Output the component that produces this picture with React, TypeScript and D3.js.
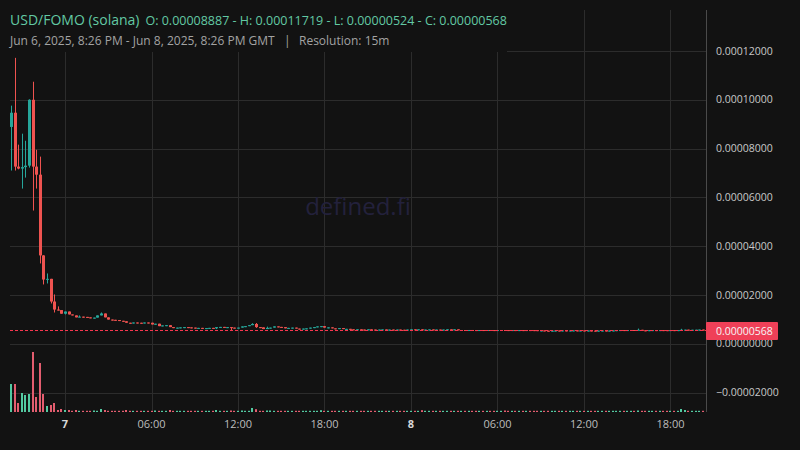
import React from "react";
import * as d3 from "d3";

const W = 800;
const H = 450;

// 15-minute candles, Jun 6 2025 20:15 GMT onward (prices in units of 1e-6 USD)
const startTime = Date.UTC(2025, 5, 6, 20, 15);
const stepMs = 15 * 60 * 1000;
const firstOpen = 88.87;

const closes: number[] = [
  94.7, 72.6, 71.8, 72.4, 73.0, 100.0, 72.6, 69.3, 36.2, 26.3,
  26.6, 17.3, 14.0, 13.8, 12.3, 13.2, 12.0, 11.6, 10.8, 11.1,
  11.0, 10.8, 10.4, 10.7, 11.6, 12.4, 10.8, 9.9, 9.8, 9.7,
  9.4, 9.2, 8.6, 8.5, 8.7, 8.6, 8.5, 8.7, 8.6, 7.9,
  8.2, 7.2, 7.5, 7.6, 6.8, 6.4, 6.6, 6.7, 6.8, 6.7,
  6.6, 6.3, 6.5, 6.3, 6.4, 6.5, 6.3, 6.8, 6.9, 6.7,
  6.8, 6.6, 6.5, 6.6, 7.1, 7.2, 7.6, 8.1, 6.8, 6.7,
  6.0, 6.5, 6.6, 7.1, 6.9, 6.8, 6.3, 6.5, 6.6, 6.2,
  6.1, 6.2, 6.3, 6.6, 6.8, 7.1, 7.2, 6.6, 6.7, 6.3,
  6.2, 6.4, 6.0, 6.1, 5.9, 5.7, 5.9, 5.8, 5.75, 5.9,
  5.8, 5.7, 5.8, 5.85, 5.7, 5.8, 5.7, 5.8, 5.72, 5.68,
  5.8, 5.9, 5.8, 5.9, 5.7, 5.8, 5.85, 5.7, 5.8, 5.7,
  5.8, 5.9, 5.8, 5.9, 5.6, 5.62, 5.6, 5.63, 5.6, 5.58,
  5.61, 5.6, 5.62, 5.6, 5.58, 5.6, 5.62, 5.6, 5.58, 5.6,
  5.57, 5.59, 5.57, 5.6, 5.58, 5.56, 5.4, 5.45, 5.35, 5.3,
  5.36, 5.42, 5.4, 5.45, 5.38, 5.42, 5.46, 5.4, 5.44, 5.38,
  5.42, 5.36, 5.3, 5.38, 5.42, 5.36, 5.4, 5.46, 5.55, 5.6,
  5.58, 5.6, 5.62, 5.6, 5.7, 5.5, 5.48, 5.55, 5.58, 5.56,
  5.58, 5.56, 5.55, 5.58, 5.56, 5.58, 5.72, 5.76, 5.7, 5.72,
  5.74, 5.8, 5.68,
];

// [candle index, wick extreme]
const highWicks: [number, number][] = [
  [0, 97.6], [1, 117.19], [2, 81.6], [3, 86.1], [4, 83.2], [5, 100.2],
  [6, 107.4], [7, 79.5], [8, 76.7], [9, 36.3], [10, 28.8], [12, 20.2],
  [13, 15.3], [19, 11.6], [25, 12.8], [67, 8.4], [68, 8.5], [71, 7.0],
  [174, 6.2], [186, 6.1],
];
const lowWicks: [number, number][] = [
  [0, 71.0], [1, 71.0], [2, 71.5], [3, 63.6], [4, 68.1], [5, 72.2],
  [6, 54.6], [7, 63.6], [8, 32.9], [9, 24.3], [10, 24.7], [11, 16.5],
  [12, 12.8], [13, 13.6], [15, 12.0], [57, 6.0], [61, 5.6], [68, 6.5],
  [162, 5.24],
];

const volumes: number[] = [
  280, 280, 90, 190, 170, 180, 600, 150, 490, 180,
  60, 70, 90, 20, 30, 20, 20, 12, 20, 12,
  12, 12, 12, 15, 12, 30, 20, 12, 12, 12,
  12, 12, 20, 12, 12, 12, 12, 12, 12, 12,
  15, 12, 12, 12, 20, 12, 12, 12, 12, 12,
  12, 12, 12, 12, 12, 12, 12, 20, 12, 12,
  12, 15, 12, 12, 15, 12, 12, 40, 28, 12,
  12, 15, 15, 12, 12, 12, 12, 12, 12, 12,
  12, 12, 12, 12, 12, 12, 18, 12, 12, 12,
  12, 12, 12, 12, 12, 12, 12, 12, 12, 12,
  12, 12, 12, 12, 12, 12, 12, 12, 12, 12,
  12, 12, 12, 12, 18, 12, 12, 12, 12, 12,
  12, 12, 12, 12, 12, 12, 12, 12, 12, 12,
  12, 12, 12, 12, 12, 12, 12, 15, 12, 12,
  12, 12, 12, 12, 12, 12, 12, 12, 12, 12,
  12, 12, 12, 12, 12, 12, 12, 12, 12, 12,
  12, 12, 12, 12, 12, 12, 12, 12, 12, 12,
  12, 12, 12, 12, 15, 12, 12, 12, 12, 12,
  12, 12, 12, 12, 12, 12, 30, 20, 12, 12,
  12, 12, 12,
];

const yTicks = [-20, 0, 20, 40, 60, 80, 100, 120];
const xTickTimes = [
  Date.UTC(2025, 5, 7, 0), Date.UTC(2025, 5, 7, 6), Date.UTC(2025, 5, 7, 12), Date.UTC(2025, 5, 7, 18),
  Date.UTC(2025, 5, 8, 0), Date.UTC(2025, 5, 8, 6), Date.UTC(2025, 5, 8, 12), Date.UTC(2025, 5, 8, 18),
];
const xTickLabels = ["7", "06:00", "12:00", "18:00", "8", "06:00", "12:00", "18:00"];
const xTickMajor = [true, false, false, false, true, false, false, false];

const titleText = "USD/FOMO (solana)";
const ohlcText = "O: 0.00008887 - H: 0.00011719 - L: 0.00000524 - C: 0.00000568";
const rangeText = "Jun 6, 2025, 8:26 PM - Jun 8, 2025, 8:26 PM GMT";
const resolutionText = "Resolution: 15m";
const lastPrice = 5.68;

const BG = "#121212";
const GRID = "#2c2c2c";
const UP = "#26a69a";
const DOWN = "#ef5350";
const VOL_UP = "#53c9a1";
const VOL_DOWN = "#e35d6f";
const FONT = "'Open Sans', 'Noto Sans', sans-serif";

export default function App() {
  const left = 10;
  const right = 706;
  const top = 10;
  const bottom = 412;

  const x = d3
    .scaleUtc()
    .domain([new Date(Date.UTC(2025, 5, 6, 20, 11)), new Date(Date.UTC(2025, 5, 8, 20, 28))])
    .range([left, right]);
  const y = d3.scaleLinear().domain([-20, 120]).range([392.5, 51]);
  const vMax = d3.max(volumes) as number;
  const yv = d3.scaleLinear().domain([0, vMax]).range([bottom, 352]);

  const hiMap = new Map(highWicks);
  const loMap = new Map(lowWicks);
  const candles = closes.map((c, i) => {
    const o = i === 0 ? firstOpen : closes[i - 1];
    const h = Math.max(o, c, hiMap.get(i) ?? -Infinity);
    const l = Math.min(o, c, loMap.get(i) ?? Infinity);
    return { t: new Date(startTime + i * stepMs), o, h, l, c, v: volumes[i], up: c >= o };
  });

  const fmt = d3.format(".8f");
  const priceY = Math.round(y(lastPrice)) + 0.5;

  return (
    <svg
      width={W}
      height={H}
      viewBox={`0 0 ${W} ${H}`}
      style={{ position: "absolute", left: 0, top: 0, display: "block" }}
    >
      <rect x={0} y={0} width={W} height={H} fill={BG} />

      {/* grid */}
      {yTicks.map((t) => (
        <line key={"gy" + t} x1={left} x2={right} y1={Math.round(y(t)) + 0.5} y2={Math.round(y(t)) + 0.5} stroke={GRID} strokeWidth={1} />
      ))}
      {xTickTimes.map((t, i) => (
        <line key={"gx" + i} x1={Math.round(x(new Date(t))) + 0.5} x2={Math.round(x(new Date(t))) + 0.5} y1={top} y2={bottom} stroke={GRID} strokeWidth={1} />
      ))}

      {/* watermark */}
      <text x={358} y={215} textAnchor="middle" fontFamily={FONT} fontSize={24} fill="#23213c">
        defined.fi
      </text>

      {/* volume */}
      {candles.map((d, i) => {
        const cx = Math.round(x(d.t));
        const yt = yv(d.v);
        return (
          <rect key={"v" + i} x={cx - 1} y={yt} width={2} height={bottom - yt} fill={d.up ? VOL_UP : VOL_DOWN} />
        );
      })}

      {/* candles */}
      {candles.map((d, i) => {
        const cx = Math.round(x(d.t));
        const col = d.up ? UP : DOWN;
        const bt = y(Math.max(d.o, d.c));
        const bb = y(Math.min(d.o, d.c));
        const bh = Math.max(1, bb - bt);
        return (
          <g key={"c" + i}>
            <rect x={cx} y={y(d.h)} width={1} height={Math.max(1, y(d.l) - y(d.h))} fill={col} />
            <rect x={cx - 1} y={bt} width={3} height={bh} fill={col} />
          </g>
        );
      })}

      {/* last price line */}
      <line
        x1={left}
        x2={right}
        y1={priceY}
        y2={priceY}
        stroke="#f7364f"
        strokeWidth={1}
        strokeDasharray="3,2"
        shapeRendering="crispEdges"
      />

      {/* legend box */}
      <rect x={0} y={0} width={507} height={52} fill={BG} />
      <text x={10} y={25} fontFamily={FONT} fill="#62c9a4">
        <tspan fontSize={14}>{titleText}</tspan>
        <tspan fontSize={12.5} dx={6}>{ohlcText}</tspan>
      </text>
      <text fontFamily={FONT} fontSize={12} fill="#a3a3a3">
        <tspan x={10} y={45}>{rangeText}</tspan>
        <tspan x={284} y={45}>|</tspan>
        <tspan x={299} y={45}>{resolutionText}</tspan>
      </text>

      {/* right axis */}
      <line x1={right + 0.5} x2={right + 0.5} y1={top} y2={bottom} stroke="#4a4a4a" strokeWidth={1} />
      {yTicks.map((t) => (
        <text key={"yl" + t} x={716} y={y(t)} dy="0.35em" fontFamily={FONT} fontSize={10.5} fill="#c8c8c8">
          {fmt(t / 1e6)}
        </text>
      ))}
      <rect x={right} y={322} width={72} height={18} fill="#ef4058" rx={1} />
      <text x={716} y={331} dy="0.35em" fontFamily={FONT} fontSize={10.5} fill="#f6f6f6">
        {fmt(lastPrice / 1e6)}
      </text>

      {/* time axis */}
      {xTickTimes.map((t, i) => (
        <text
          key={"xl" + i}
          x={x(new Date(t))}
          y={428}
          textAnchor="middle"
          fontFamily={FONT}
          fontSize={11}
          fontWeight={xTickMajor[i] ? 700 : 400}
          fill={xTickMajor[i] ? "#d8d8d8" : "#bdbdbd"}
        >
          {xTickLabels[i]}
        </text>
      ))}
    </svg>
  );
}
